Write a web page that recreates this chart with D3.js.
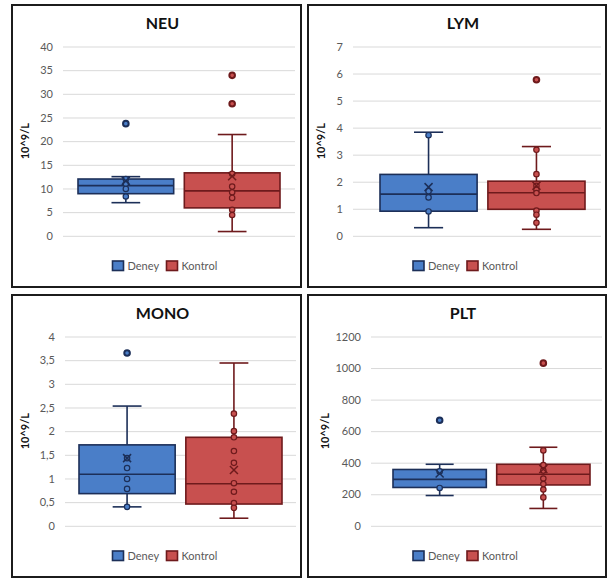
<!DOCTYPE html>
<html>
<head>
<meta charset="utf-8">
<script src="https://cdn.jsdelivr.net/npm/d3@7"></script>
<style>
  body { margin: 0; background: #fff; }
  svg { display: block; font-family: Lato, "Open Sans", sans-serif; }
</style>
</head>
<body>
<svg width="609" height="579"></svg>
<script>
// values, one entry per panel: NEU, LYM, MONO, PLT
const panelNames = ['NEU', 'LYM', 'MONO', 'PLT'];
const groups = ['Deney', 'Kontrol'];
const yTitle = '10^9/L';

const yTicks = [
  [0, 5, 10, 15, 20, 25, 30, 35, 40],
  [0, 1, 2, 3, 4, 5, 6, 7],
  [0, 0.5, 1, 1.5, 2, 2.5, 3, 3.5, 4],
  [0, 200, 400, 600, 800, 1000, 1200]
];

// [whisker low, Q1, median, Q3, whisker high]
const deneyBox = [
  [7.0, 8.9, 10.6, 12.0, 12.5],
  [0.30, 0.91, 1.54, 2.27, 3.83],
  [0.40, 0.68, 1.09, 1.71, 2.53],
  [192, 243, 294, 357, 390]
];
const kontrolBox = [
  [0.9, 5.9, 9.5, 13.3, 21.4],
  [0.24, 0.98, 1.59, 2.02, 3.30],
  [0.16, 0.46, 0.89, 1.87, 3.44],
  [110, 259, 327, 390, 498]
];
const deneyMean = [11.6, 1.80, 1.43, 332];
const kontrolMean = [12.6, 1.85, 1.18, 360];

const deneyPoints = [
  [12.0, 11.0, 9.9, 8.3],
  [3.72, 1.65, 1.42, 0.90],
  [1.43, 1.22, 0.99, 0.78, 0.40],
  [345, 240]
];
const kontrolPoints = [
  [13.1, 10.4, 9.2, 8.0, 5.5, 4.4],
  [3.18, 2.28, 1.85, 1.70, 1.58, 0.93, 0.78, 0.48],
  [2.37, 2.00, 1.87, 1.58, 1.33, 0.90, 0.72, 0.48, 0.38],
  [478, 385, 350, 300, 265, 230, 180]
];
const deneyOutliers = [[23.7], [], [3.65], [669]];
const kontrolOutliers = [[33.9, 27.9], [5.77], [], [1031]];

// colours
const fills = { Deney: '#4a7ec8', Kontrol: '#c8504f' };
const strokes = { Deney: '#1c2f58', Kontrol: '#6e1a1c' };

// panel placement (frame, plot area, span of the two boxes)
const layout = [
  { fx: 12, fy: 5, fw: 289, fh: 282, pl: 63, pr: 295, bl: 78, br: 280, yt: 25 },
  { fx: 308, fy: 5, fw: 298, fh: 282, pl: 353, pr: 601, bl: 380, br: 585, yt: 321 },
  { fx: 12, fy: 295, fw: 289, fh: 282, pl: 65, pr: 296, bl: 79, br: 282, yt: 25 },
  { fx: 308, fy: 295, fw: 298, fh: 282, pl: 371, pr: 602, bl: 393, br: 590, yt: 325 }
];

const locale = d3.formatLocale({ decimal: ',', thousands: '', grouping: [3], currency: ['', ''] });
const fmt = locale.format('');

const svg = d3.select('svg');

panelNames.forEach((name, i) => {
  const L = layout[i];
  const top = L.fy + 41.5, bottom = L.fy + 230.8;
  const g = svg.append('g');

  g.append('rect')
    .attr('x', L.fx).attr('y', L.fy)
    .attr('width', L.fw).attr('height', L.fh)
    .attr('fill', '#fff').attr('stroke', '#1c1c1c').attr('stroke-width', 2);

  const y = d3.scaleLinear()
    .domain([0, d3.max(yTicks[i])])
    .range([bottom, top]);

  const x = d3.scaleBand()
    .domain(groups)
    .range([L.bl, L.br])
    .paddingInner(0.1)
    .paddingOuter(0);

  // gridlines + tick labels
  const axisG = g.append('g')
    .attr('transform', `translate(${L.pl},0)`)
    .call(d3.axisLeft(y).tickValues(yTicks[i]).tickFormat(fmt).tickSize(-(L.pr - L.pl)).tickPadding(10));
  axisG.select('.domain').remove();
  axisG.selectAll('.tick line').attr('stroke', '#d9d9d9').attr('stroke-width', 1);
  axisG.selectAll('.tick text')
    .attr('fill', '#595959')
    .style('font-size', '11px')
    .style('font-family', 'Lato, sans-serif');

  // title
  g.append('text')
    .attr('x', L.fx + L.fw / 2 + 6)
    .attr('y', L.fy + 24)
    .attr('text-anchor', 'middle')
    .style('font-size', '16px')
    .style('font-weight', 'bold')
    .attr('fill', '#111')
    .text(name);

  // y axis title
  g.append('text')
    .attr('transform', `translate(${L.yt},${(top + bottom) / 2}) rotate(-90)`)
    .attr('text-anchor', 'middle')
    .attr('dy', '0.35em')
    .style('font-size', '11px')
    .style('font-weight', 'bold')
    .attr('fill', '#111')
    .text(yTitle);

  const series = [
    { key: 'Deney', box: deneyBox[i], mean: deneyMean[i], pts: deneyPoints[i], out: deneyOutliers[i] },
    { key: 'Kontrol', box: kontrolBox[i], mean: kontrolMean[i], pts: kontrolPoints[i], out: kontrolOutliers[i] }
  ];

  series.forEach(s => {
    const x0 = x(s.key), bw = x.bandwidth(), cx = x0 + bw / 2;
    const [lo, q1, med, q3, hi] = s.box;
    const col = strokes[s.key];
    const capW = bw * 0.3;

    // whiskers
    g.append('line').attr('x1', cx).attr('x2', cx).attr('y1', y(lo)).attr('y2', y(q1))
      .attr('stroke', col).attr('stroke-width', 1.6);
    g.append('line').attr('x1', cx).attr('x2', cx).attr('y1', y(q3)).attr('y2', y(hi))
      .attr('stroke', col).attr('stroke-width', 1.6);
    [lo, hi].forEach(v => {
      g.append('line').attr('x1', cx - capW / 2).attr('x2', cx + capW / 2)
        .attr('y1', y(v)).attr('y2', y(v))
        .attr('stroke', col).attr('stroke-width', 1.6);
    });

    // box
    g.append('rect')
      .attr('x', x0).attr('y', y(q3))
      .attr('width', bw).attr('height', y(q1) - y(q3))
      .attr('fill', fills[s.key]).attr('stroke', col).attr('stroke-width', 1.6);
    g.append('line').attr('x1', x0).attr('x2', x0 + bw).attr('y1', y(med)).attr('y2', y(med))
      .attr('stroke', col).attr('stroke-width', 1.6);

    // inner points
    g.selectAll(null).data(s.pts).join('circle')
      .attr('cx', cx).attr('cy', d => y(d)).attr('r', 2.7)
      .attr('fill', fills[s.key]).attr('stroke', col).attr('stroke-width', 1.2);

    // outliers
    g.selectAll(null).data(s.out).join('circle')
      .attr('cx', cx).attr('cy', d => y(d)).attr('r', 2.8)
      .attr('fill', fills[s.key]).attr('stroke', col).attr('stroke-width', 2);

    // mean marker
    const my = y(s.mean), m = 4;
    g.append('path')
      .attr('d', `M${cx - m},${my - m}L${cx + m},${my + m}M${cx - m},${my + m}L${cx + m},${my - m}`)
      .attr('stroke', col).attr('stroke-width', 1.5).attr('fill', 'none');
  });

  // legend
  const lc = L.fx + L.fw / 2 + 8;
  const ly = L.fy + 256;
  groups.forEach((grp, k) => {
    const sx = lc - 52 + k * 54;
    g.append('rect')
      .attr('x', sx).attr('y', ly)
      .attr('width', 11).attr('height', 9.5)
      .attr('fill', fills[grp]).attr('stroke', strokes[grp]).attr('stroke-width', 1.6);
    g.append('text')
      .attr('x', sx + 15).attr('y', ly + 9)
      .style('font-size', '11px')
      .attr('fill', '#595959')
      .text(grp);
  });
});
</script>
</body>
</html>
